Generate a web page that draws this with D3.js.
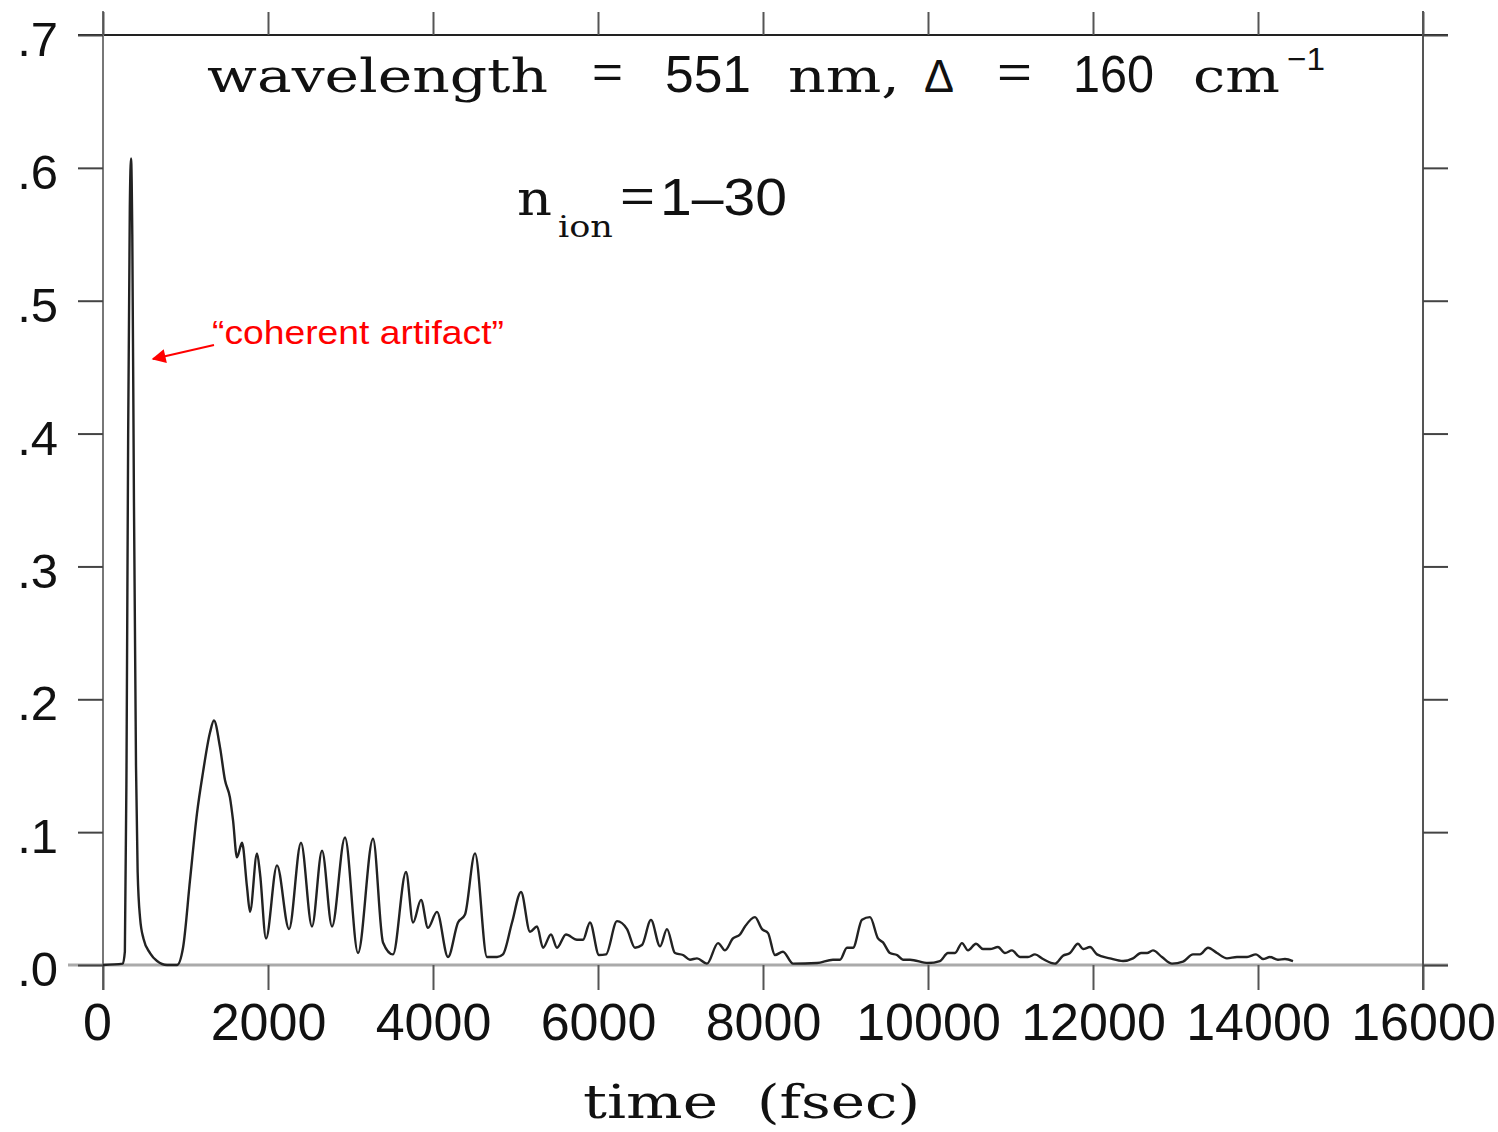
<!doctype html>
<html>
<head>
<meta charset="utf-8">
<title>coherent artifact</title>
<script src="https://cdnjs.cloudflare.com/ajax/libs/d3/7.8.5/d3.min.js"></script>
<style>
body { margin: 0; background: #fff; }
svg { display: block; }
.tick text { fill: #111; }
</style>
</head>
<body>
<div id="chartContainer"></div>
<script>
// signal vs time
var timeFs = [0, 240, 265, 285, 305, 325, 340, 355, 375, 400, 420, 450, 490, 570, 655, 776, 897,
  970, 1055, 1139, 1212, 1297, 1345, 1418, 1479, 1539, 1576, 1624, 1685, 1745, 1782, 1867, 1903,
  1976, 2109, 2255, 2400, 2533, 2655, 2776, 2933, 3091, 3273, 3394, 3515, 3673, 3758, 3855, 3939,
  4048, 4182, 4303, 4388, 4509, 4655, 4776, 4848, 4958, 5067, 5176, 5261, 5333, 5430, 5503, 5612,
  5745, 5818, 5903, 6012, 6097, 6230, 6352, 6448, 6533, 6642, 6752, 6836, 6933, 7030, 7115, 7200,
  7321, 7455, 7539, 7636, 7721, 7782, 7903, 7988, 8061, 8145, 8242, 8364, 8655, 8848, 8933, 9018,
  9091, 9200, 9297, 9394, 9455, 9539, 9624, 9697, 9782, 10000, 10145, 10242, 10327, 10412, 10485,
  10582, 10667, 10752, 10848, 10933, 11018, 11115, 11212, 11297, 11394, 11539, 11636, 11721, 11818,
  11879, 11964, 12048, 12206, 12364, 12485, 12582, 12655, 12727, 12836, 12958, 13091, 13212, 13297,
  13394, 13503, 13624, 13745, 13867, 13976, 14061, 14145, 14242, 14327, 14424];
var signal = [0, 0.001, 0.01, 0.15, 0.40, 0.57, 0.607, 0.55, 0.35, 0.15, 0.07, 0.035, 0.02, 0.009, 0.003, 0, 0,
  0.013, 0.064, 0.114, 0.145, 0.175, 0.184, 0.164, 0.139, 0.126, 0.109, 0.081, 0.092, 0.059, 0.040, 0.084, 0.069,
  0.020, 0.075, 0.027, 0.092, 0.029, 0.086, 0.029, 0.096, 0.009, 0.095, 0.017, 0.008, 0.070, 0.032, 0.049, 0.028,
  0.040, 0.006, 0.032, 0.038, 0.084, 0.006, 0.006, 0.008, 0.032, 0.055, 0.025, 0.029, 0.013, 0.023, 0.013, 0.023,
  0.019, 0.019, 0.032, 0.0075, 0.008, 0.033, 0.027, 0.013, 0.015, 0.034, 0.014, 0.027, 0.009, 0.0075, 0.004, 0.005,
  0.001, 0.0165, 0.011, 0.020, 0.023, 0.029, 0.036, 0.027, 0.024, 0.0075, 0.010, 0.001, 0.0015, 0.004, 0.004, 0.013,
  0.013, 0.034, 0.036, 0.020, 0.017, 0.009, 0.0075, 0.004, 0.004, 0.0015, 0.003, 0.009, 0.009, 0.0165, 0.011,
  0.016, 0.012, 0.012, 0.0135, 0.009, 0.011, 0.006, 0.006, 0.008, 0.0045, 0.001, 0.007, 0.009, 0.016,
  0.012, 0.0135, 0.008, 0.005, 0.003, 0.005, 0.009, 0.009, 0.011, 0.006, 0.001, 0.0025, 0.008, 0.008,
  0.013, 0.009, 0.005, 0.006, 0.006, 0.008, 0.0045, 0.006, 0.004, 0.0045, 0.003];

var xTicks = [0, 2000, 4000, 6000, 8000, 10000, 12000, 14000, 16000];
var yTicks = [0, 0.1, 0.2, 0.3, 0.4, 0.5, 0.6, 0.7];
var yTickLabels = [".0", ".1", ".2", ".3", ".4", ".5", ".6", ".7"];

function draw() {
  var svgWidth = 1498, svgHeight = 1132;
  var plotLeft = 103, plotRight = 1423, plotTop = 35, plotBottom = 965;

  var svg = d3.select("#chartContainer").append("svg")
    .attr("width", svgWidth).attr("height", svgHeight);

  var x = d3.scaleLinear().domain([0, 16000]).range([plotLeft, plotRight]);
  var y = d3.scaleLinear().domain([0, 0.7]).range([plotBottom, plotTop]);

  // frame lines
  svg.append("line").attr("x1", 78).attr("x2", 1448).attr("y1", plotTop).attr("y2", plotTop)
    .style("stroke", "#222").style("stroke-width", 2);
  svg.append("line").attr("x1", 68).attr("x2", 1448).attr("y1", plotBottom).attr("y2", plotBottom)
    .style("stroke", "#aaa").style("stroke-width", 3);
  svg.append("line").attr("x1", plotLeft).attr("x2", plotLeft).attr("y1", 11).attr("y2", 990)
    .style("stroke", "#777").style("stroke-width", 2);
  svg.append("line").attr("x1", plotRight).attr("x2", plotRight).attr("y1", 11).attr("y2", 990)
    .style("stroke", "#555").style("stroke-width", 2);

  // bottom axis
  var xAxis = svg.append("g")
    .attr("transform", "translate(0," + plotBottom + ")")
    .call(d3.axisBottom(x).tickValues(xTicks).tickSize(25).tickFormat(d3.format("d")));
  xAxis.select(".domain").remove();
  xAxis.selectAll("line").style("stroke", "#555").style("stroke-width", 2);
  xAxis.selectAll("text")
    .attr("y", 75).attr("dy", null)
    .attr("x", function (d) { return d === 0 ? -6 : 0; })
    .style("font-family", "'Liberation Sans', Arial, sans-serif")
    .style("font-size", "52px");

  // top ticks
  var xTop = svg.append("g")
    .attr("transform", "translate(0," + plotTop + ")")
    .call(d3.axisTop(x).tickValues(xTicks).tickSize(23).tickFormat(""));
  xTop.select(".domain").remove();
  xTop.selectAll("line").style("stroke", "#555").style("stroke-width", 2);

  // left axis
  var yAxis = svg.append("g")
    .attr("transform", "translate(" + plotLeft + ",0)")
    .call(d3.axisLeft(y).tickValues(yTicks).tickSize(25).tickPadding(20)
      .tickFormat(function (d, i) { return yTickLabels[i]; }));
  yAxis.select(".domain").remove();
  yAxis.selectAll("line").style("stroke", "#444").style("stroke-width", 2);
  yAxis.selectAll("text")
    .attr("dy", "0.42em")
    .style("font-family", "'Liberation Sans', Arial, sans-serif")
    .style("font-size", "49px");

  // right ticks
  var yRight = svg.append("g")
    .attr("transform", "translate(" + plotRight + ",0)")
    .call(d3.axisRight(y).tickValues(yTicks).tickSize(25).tickFormat(""));
  yRight.select(".domain").remove();
  yRight.selectAll("line").style("stroke", "#444").style("stroke-width", 2);

  // the trace
  var data = timeFs.map(function (t, i) { return { t: t, v: signal[i] }; });
  var line = d3.line()
    .x(function (d) { return x(d.t); })
    .y(function (d) { return y(d.v); })
    .curve(d3.curveMonotoneX);
  svg.append("path").datum(data)
    .attr("d", line)
    .style("fill", "none")
    .style("stroke", "#222")
    .style("stroke-width", 2.4)
    .style("stroke-linejoin", "round");

  // title texts
  var serif = "'DejaVu Serif', 'Liberation Serif', serif";
  var sans = "'Liberation Sans', Arial, sans-serif";
  function txt(s, xPos, yPos, size, fam, len) {
    var t = svg.append("text").attr("x", xPos).attr("y", yPos)
      .style("font-family", fam).style("font-size", size + "px").style("fill", "#111")
      .text(s);
    if (len) t.attr("textLength", len).attr("lengthAdjust", "spacingAndGlyphs");
    return t;
  }
  txt("wavelength", 207, 92, 46, serif, 341);
  txt("=", 592, 88, 46, sans, 31);
  txt("551", 665, 92, 51, sans, 86);
  txt("nm,", 788, 92, 46, serif, 112);
  txt("\u0394", 924, 92, 46, sans, 30);
  txt("=", 997, 88, 46, sans, 35);
  txt("160", 1073, 92, 51, sans, 81);
  txt("cm", 1193, 92, 46, serif, 87);
  txt("\u22121", 1287, 70, 32, sans, 38);

  txt("n", 517, 215, 48, serif, 35);
  txt("ion", 558, 237, 30, serif, 55);
  txt("=", 620, 212, 46, sans, 35);
  txt("1\u201330", 660, 215, 51, sans, 127);

  txt("time", 583, 1118, 46, serif, 135);
  txt("(fsec)", 757, 1118, 46, serif, 163);

  // annotation
  var defs = svg.append("defs");
  defs.append("marker").attr("id", "arrow")
    .attr("viewBox", "0 0 10 10").attr("refX", 9).attr("refY", 5)
    .attr("markerWidth", 20).attr("markerHeight", 14).attr("markerUnits", "userSpaceOnUse")
    .attr("orient", "auto")
    .append("path").attr("d", "M0,0 L10,5 L0,10 z").style("fill", "#f00");
  svg.append("line")
    .attr("x1", 214).attr("y1", 345).attr("x2", 153).attr("y2", 359)
    .style("stroke", "#f00").style("stroke-width", 2)
    .attr("marker-end", "url(#arrow)");
  svg.append("text").attr("x", 212).attr("y", 344)
    .style("font-family", sans).style("font-size", "34px").style("fill", "#f00")
    .attr("textLength", 292).attr("lengthAdjust", "spacingAndGlyphs")
    .text("\u201Ccoherent artifact\u201D");
}

draw();
</script>
</body>
</html>
